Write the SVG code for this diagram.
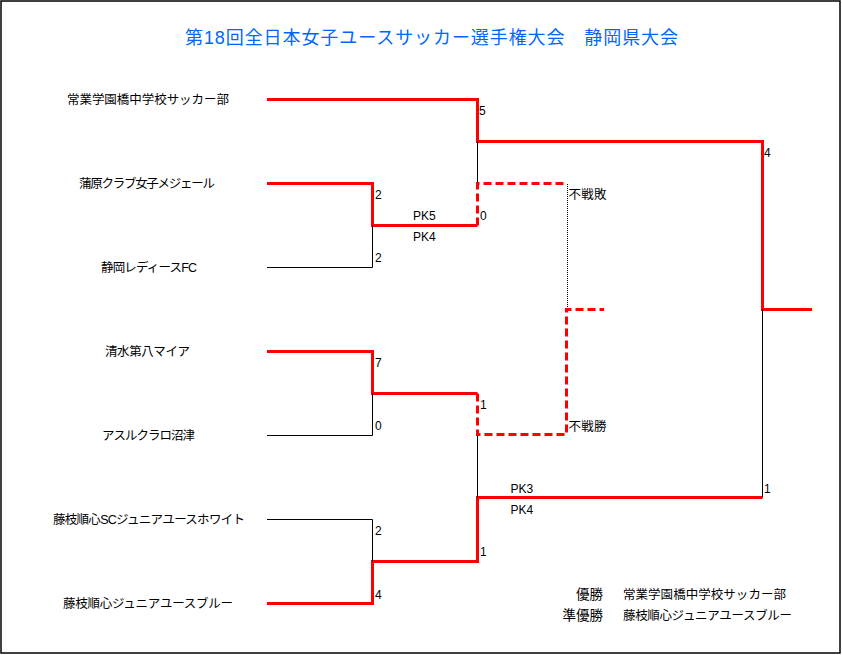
<svg xmlns="http://www.w3.org/2000/svg" width="842" height="655" viewBox="0 0 842 655">
<style>
text{font-family:"Liberation Sans","Noto Sans CJK JP",sans-serif;fill:#000}
.team{font-size:12.5px}
.lab{font-size:13.5px;text-anchor:end}
.score{font-size:12px}
.title{font-size:18px;fill:#0066ff}
.win{fill:none;stroke:#ff0000;stroke-width:3;stroke-linejoin:miter}
.lose{fill:none;stroke:#000;stroke-width:1}
.fwin{fill:none;stroke:#ff0000;stroke-width:3;stroke-dasharray:8 4}
.dot{fill:none;stroke:#000;stroke-width:1;stroke-dasharray:1 1}
</style>
<rect x="1" y="1" width="839" height="652" fill="#fff" stroke="#000" stroke-width="1.5"/>
<text id="title" class="title" x="185" y="43.5" textLength="493">第18回全日本女子ユースサッカー選手権大会　静岡県大会</text>

<g id="team1"><text class="team" x="67" y="104" textLength="162">常業学園橋中学校サッカー部</text></g>
<g id="team2"><text class="team" x="79" y="188" textLength="136">蒲原クラブ女子メジェール</text></g>
<g id="team3"><text class="team" x="101" y="272" textLength="96">静岡レディースFC</text></g>
<g id="team4"><text class="team" x="105" y="356" textLength="85">清水第八マイア</text></g>
<g id="team5"><text class="team" x="102" y="440" textLength="93">アスルクラロ沼津</text></g>
<g id="team6"><text class="team" x="53" y="524" textLength="192">藤枝順心SCジュニアユースホワイト</text></g>
<g id="team7"><text class="team" x="63" y="608" textLength="170">藤枝順心ジュニアユースブルー</text></g>

<g id="connectors">
<path class="win" d="M267 99.5 H477.5 V141.5 H762.5 V309.5 H812"/>
<path class="win" d="M267 183.5 H372.5 V225.5 H477.5"/>
<path class="win" d="M267 351.5 H372.5 V393.5 H477.5"/>
<path class="win" d="M267 603.5 H372.5 V561.5 H477.5 V497.5 H762.5"/>
<path class="lose" d="M267 267.5 H372.5 V225.5"/>
<path class="lose" d="M267 435.5 H372.5 V393.5"/>
<path class="lose" d="M267 519.5 H372.5 V561.5"/>
<path class="lose" d="M477.5 141.5 V183.5"/>
<path class="lose" d="M477.5 435.5 V497.5"/>
<path class="lose" d="M762.5 309.5 V497.5"/>
<path class="fwin" d="M477.5 225.5 V183.5 H566.5"/>
<path class="fwin" d="M477.5 393.5 V434.5 H566.5 V309.5 H604"/>
<path class="dot" d="M567.5 184 V308"/>
</g>

<g id="scores">
<text class="score" x="479" y="115">5</text>
<text class="score" x="375" y="198.5">2</text>
<text class="score" x="413" y="220">PK5</text>
<text class="score" x="480" y="220">0</text>
<text class="score" x="413" y="241">PK4</text>
<text class="score" x="375" y="261.5">2</text>
<text class="score" x="375" y="367">7</text>
<text class="score" x="480" y="408.5">1</text>
<text class="score" x="375" y="430">0</text>
<text class="score" x="375" y="535">2</text>
<text class="score" x="480" y="556">1</text>
<text class="score" x="375" y="598.5">4</text>
<text class="score" x="764" y="157">4</text>
<text class="score" x="764" y="492.5">1</text>
<text class="score" x="510.5" y="493">PK3</text>
<text class="score" x="510.5" y="514">PK4</text>
<text class="team" x="568.5" y="198.5" textLength="38">不戦敗</text>
<text class="team" x="568.5" y="430.5" textLength="38">不戦勝</text>
</g>

<g id="legend">
<text class="lab" x="603" y="599">優勝</text>
<text class="team" x="623" y="598.5" textLength="163">常業学園橋中学校サッカー部</text>
<text class="lab" x="603" y="620">準優勝</text>
<text class="team" x="623" y="619.5" textLength="169">藤枝順心ジュニアユースブルー</text>
</g>
</svg>
